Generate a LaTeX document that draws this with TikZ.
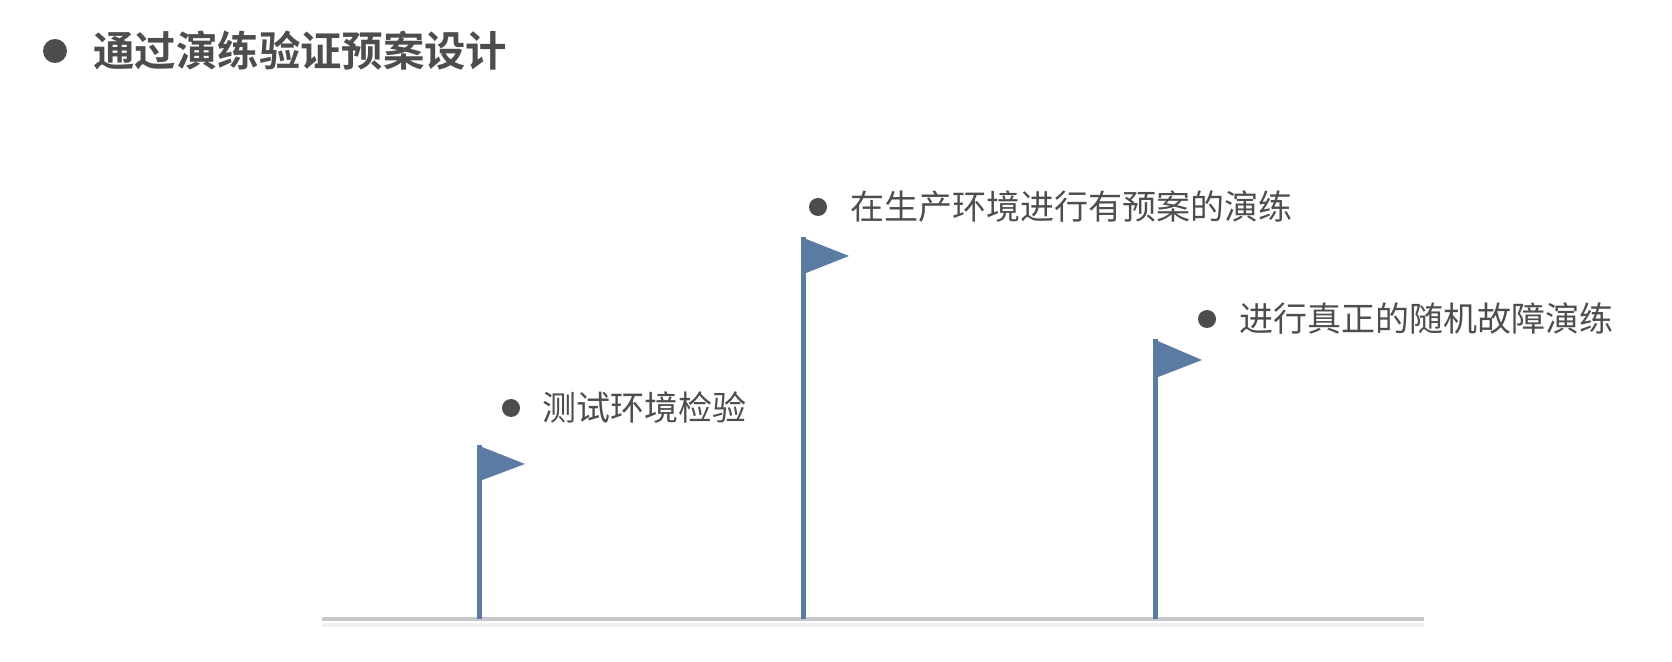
\documentclass[tikz,border=0pt]{standalone}
\usepackage{fontspec}
\setmainfont{Noto Sans CJK SC}
\newfontfamily\cjkb{Noto Sans CJK SC Bold}
\definecolor{txt}{HTML}{4D4D4D}
\definecolor{flag}{HTML}{5B7BA3}
\definecolor{base}{HTML}{C8C8CC}
\begin{document}
\begin{tikzpicture}[x=0.5pt,y=-0.5pt,
  lbl/.style={anchor=west,inner sep=0,text=txt,font=\fontsize{17}{19}\selectfont},
  dot/.style={circle,fill=txt,inner sep=0,minimum size=9pt},
  pole/.style={draw=flag,line width=2.5pt},
  pennant/.style={fill=flag}]
\useasboundingbox (0,0) rectangle (1672,662);
\node[dot,minimum size=12pt] (td) at (55,51) {};
\node[anchor=west,inner sep=0,text=txt,font=\cjkb\fontsize{20.7}{23}\selectfont] (title) at (93,51) {通过演练验证预案设计};
\draw[base,line width=1.6pt] (322,619) coordinate (b0) -- (1424,619) coordinate (b1);
\fill[black!6] (322,623) rectangle (1424,627);
% flags
\coordinate (p1b) at (479,619); \coordinate (p1t) at (479,445);
\draw[pole] (p1b) -- (p1t);
\fill[pennant] (477,445) -- (525,464) -- (477,482) -- cycle;
\coordinate (p2b) at (803,619); \coordinate (p2t) at (803,237);
\draw[pole] (p2b) -- (p2t);
\fill[pennant] (801,237) -- (849,256) -- (801,275) -- cycle;
\coordinate (p3b) at (1155,619); \coordinate (p3t) at (1155,339);
\draw[pole] (p3b) -- (p3t);
\fill[pennant] (1153,339) -- (1202,360) -- (1153,379) -- cycle;
% labels
\node[dot] (d1) at (511,408) {};
\node[lbl] (l1) at (542,408) {测试环境检验};
\node[dot] (d2) at (818,207) {};
\node[lbl] (l2) at (850,207) {在生产环境进行有预案的演练};
\node[dot] (d3) at (1207,319) {};
\node[lbl] (l3) at (1239,319) {进行真正的随机故障演练};
\end{tikzpicture}
\end{document}
